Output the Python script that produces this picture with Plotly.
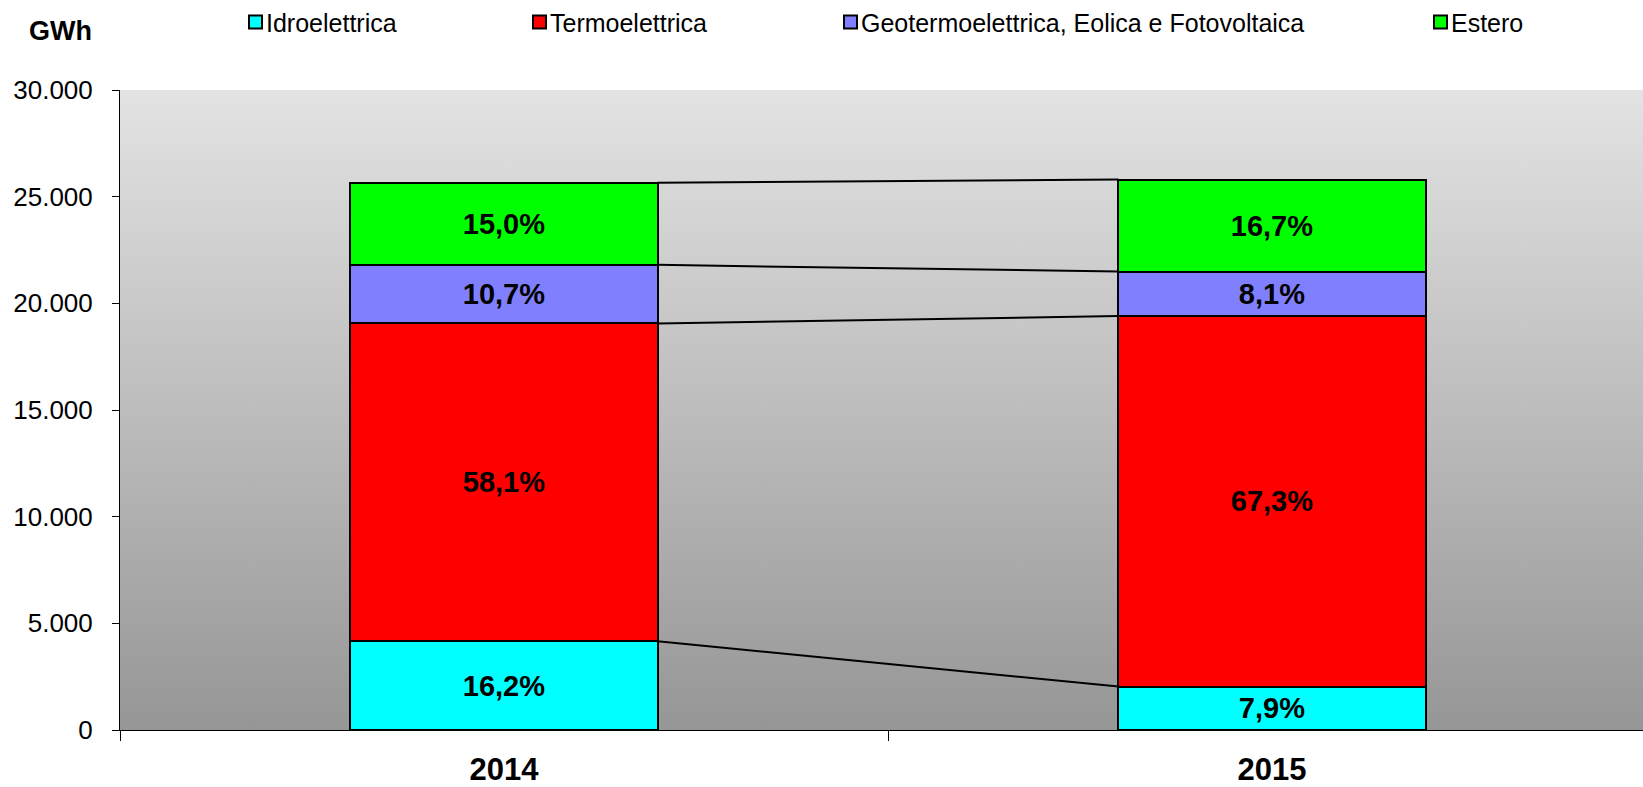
import base64
import plotly.graph_objects as go

# --- data (GWh) ---
years = ["2014", "2015"]
sources = ["Idroelettrica", "Termoelettrica",
           "Geotermoelettrica, Eolica e Fotovoltaica", "Estero"]
idro = [4155, 2038]
termo = [14903, 17363]
geo = [2745, 2090]
estero = [3848, 4309]
series = [idro, termo, geo, estero]
colors = ["#00FFFF", "#FF0000", "#8080FF", "#00FF00"]
y_ticks = [0, 5000, 10000, 15000, 20000, 25000, 30000]

W, H = 1643, 787
ML, MR, MT, MB = 120, 0, 90, 52
PW, PH = W - ML - MR, H - MT - MB
BAR_W = 0.4
FONT = "Liberation Sans, Arial, sans-serif"

totals = [sum(s[i] for s in series) for i in range(len(years))]
xpos = list(range(len(years)))


def pct_label(v, tot):
    return f"{v / tot * 100:.1f}".replace(".", ",") + "%"


fig = go.Figure()

for name, vals, col in zip(sources, series, colors):
    fig.add_trace(go.Bar(
        x=xpos, y=vals, name=name, width=BAR_W,
        marker=dict(color=col, line=dict(color="black", width=2)),
        text=[pct_label(v, t) for v, t in zip(vals, totals)],
        textposition="inside", insidetextanchor="middle",
        textfont=dict(family=FONT, size=29, color="black", weight="bold"),
        constraintext="none", showlegend=False,
        hovertemplate="%{y:,d} GWh<extra>" + name + "</extra>",
    ))

# connector lines between the segment boundaries of the two stacks
levels = [[0] * len(years)]
for s in series:
    levels.append([a + b for a, b in zip(levels[-1], s)])
for lev in levels[1:]:
    fig.add_trace(go.Scatter(
        x=[xpos[0] + BAR_W / 2, xpos[1] - BAR_W / 2], y=[lev[0], lev[1]],
        mode="lines", line=dict(color="black", width=2),
        showlegend=False, hoverinfo="skip",
    ))

# vertical grey gradient behind the plot area
svg = ('<svg xmlns="http://www.w3.org/2000/svg" width="100" height="100" '
       'preserveAspectRatio="none" viewBox="0 0 100 100">'
       '<defs><linearGradient id="g" x1="0" y1="0" x2="0" y2="1">'
       '<stop offset="0" stop-color="#e3e3e3"/>'
       '<stop offset="1" stop-color="#969696"/></linearGradient></defs>'
       '<rect width="100" height="100" fill="url(#g)"/></svg>')
svg_uri = "data:image/svg+xml;base64," + base64.b64encode(svg.encode()).decode()


def px_x(px):
    return (px - ML) / PW


def px_y(py):
    return (H - MB - py) / PH


# legend: small bordered squares followed by labels
legend_left = [248, 532, 843, 1433]
shapes = []
annotations = []
for left, name, col in zip(legend_left, sources, colors):
    shapes.append(dict(
        type="rect", xref="paper", yref="paper",
        x0=px_x(left + 1), x1=px_x(left + 14), y0=px_y(28), y1=px_y(15),
        fillcolor=col, line=dict(color="black", width=2), layer="above",
    ))
    annotations.append(dict(
        xref="paper", yref="paper", x=px_x(left + 16), y=px_y(22),
        xanchor="left", yanchor="middle", text=name, showarrow=False,
        font=dict(family=FONT, size=25, color="black"),
    ))

annotations.append(dict(
    xref="paper", yref="paper", x=px_x(60), y=px_y(31),
    xanchor="center", yanchor="middle", text="<b>GWh</b>", showarrow=False,
    font=dict(family=FONT, size=27, color="black"),
))

fig.update_layout(
    width=W, height=H,
    margin=dict(l=ML, r=MR, t=MT, b=MB, pad=0),
    barmode="stack",
    paper_bgcolor="white",
    plot_bgcolor="rgba(0,0,0,0)",
    separators=",.",
    images=[dict(source=svg_uri, xref="paper", yref="paper", x=0, y=1,
                 sizex=1, sizey=1, xanchor="left", yanchor="top",
                 sizing="stretch", layer="below")],
    shapes=shapes,
    annotations=annotations,
    font=dict(family=FONT, color="black"),
    xaxis=dict(
        range=[-0.5, -0.5 + PW / 768], tickmode="array", tickvals=xpos,
        ticktext=[f"<b>{y}</b>" for y in years], ticks="",
        tickfont=dict(family=FONT, size=31, color="black"),
        ticklabelstandoff=12,
        showline=True, linecolor="black", linewidth=1,
        showgrid=False, zeroline=False, fixedrange=True,
        minor=dict(tickmode="array", tickvals=[-0.5, 0.5, 1.5],
                   ticks="outside", ticklen=10, tickwidth=1,
                   tickcolor="black", showgrid=False),
    ),
    yaxis=dict(
        range=[0, 30000], tickmode="array", tickvals=y_ticks,
        tickformat=",d", ticks="outside", ticklen=7, tickwidth=1,
        tickcolor="black", ticklabelstandoff=14,
        tickfont=dict(family=FONT, size=26, color="black"),
        showline=True, linecolor="black", linewidth=1,
        showgrid=False, zeroline=False, fixedrange=True,
    ),
)

fig.write_html("out.html")
